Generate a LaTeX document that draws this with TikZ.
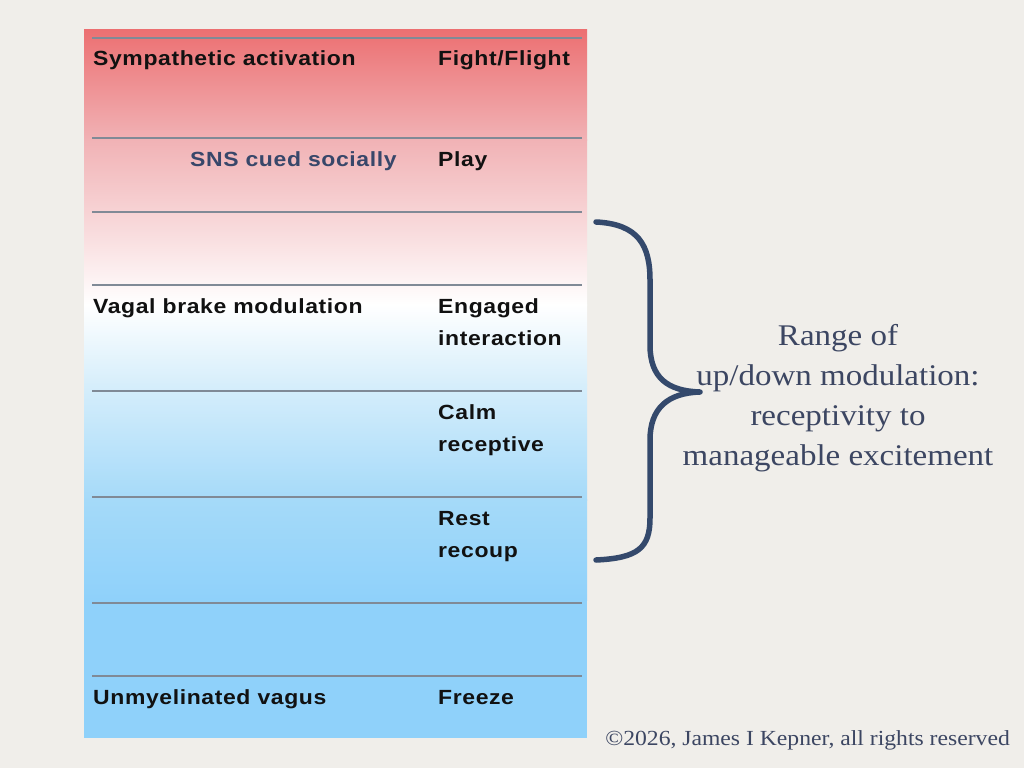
\documentclass[tikz,border=0pt]{standalone}
\usepackage{fontspec}
\setmainfont{Liberation Serif}
\newfontfamily\tabfont[FakeStretch=1.12,LetterSpace=3]{Liberation Sans}
\newfontfamily\palfont[FakeStretch=1.1]{Liberation Serif}
\definecolor{paper}{RGB}{240,238,234}
\definecolor{redtop}{RGB}{236,112,114}
\definecolor{redmid}{RGB}{241,178,181}
\definecolor{pinklo}{RGB}{250,228,229}
\definecolor{bluehi}{RGB}{214,238,251}
\definecolor{bluemid}{RGB}{165,218,249}
\definecolor{bluelo}{RGB}{143,209,250}
\definecolor{rule}{RGB}{128,138,150}
\definecolor{slate}{RGB}{56,71,106}
\definecolor{bracecol}{RGB}{52,73,108}
\definecolor{serifcol}{RGB}{60,70,98}
\definecolor{ink}{RGB}{17,17,17}
\tikzset{
  rowline/.style={draw=rule, line width=1.4pt},
  lab/.style={anchor=base west, inner sep=0pt, text=ink, font=\tabfont\bfseries\fontsize{20.5}{24}\selectfont},
  sns/.style={lab, text=slate},
  rng/.style={anchor=base, inner sep=0pt, text=serifcol, font=\palfont\fontsize{30}{36}\selectfont},
  copy/.style={anchor=base east, inner sep=0pt, text=serifcol, font=\palfont\fontsize{21.5}{26}\selectfont},
  bracestyle/.style={draw=bracecol, line width=5.5pt, line cap=round, line join=round}
}
\begin{document}
\begin{tikzpicture}[x=1pt,y=-1pt]
\useasboundingbox (0,0) rectangle (1024,768);
\fill[paper] (0,0) rectangle (1024,768);
% table background gradient
\shade[top color=redtop, bottom color=redmid] (84,30) rectangle (587,140);
\shade[top color=redmid, bottom color=pinklo] (84,139.5) rectangle (587,250);
\shade[top color=pinklo, bottom color=white] (84,249.5) rectangle (587,305);
\shade[top color=white, bottom color=bluehi] (84,304.5) rectangle (587,385);
\shade[top color=bluehi, bottom color=bluemid] (84,384.5) rectangle (587,500);
\shade[top color=bluemid, bottom color=bluelo] (84,499.5) rectangle (587,600);
\fill[bluelo] (84,599.5) rectangle (587,738);
% row lines
\foreach \yy/\nm in {38/l1,138/l2,212/l3,285/l4,391/l5,497/l6,603/l7,676/l8}{
  \coordinate (\nm a) at (92,\yy);
  \coordinate (\nm b) at (582,\yy);
  \draw[rowline] (\nm a) -- (\nm b);
}
% texts
\node[lab] (sa) at (93,66) {Sympathetic activation};
\node[lab] (ff) at (438,66) {Fight/Flight};
\node[sns] (sns) at (190,166) {SNS cued socially};
\node[lab] (play) at (438,166) {Play};
\node[lab] (vb) at (93,313) {Vagal brake modulation};
\node[lab] (eng1) at (438,313) {Engaged};
\node[lab] (eng2) at (438,345) {interaction};
\node[lab] (calm1) at (438,419) {Calm};
\node[lab] (calm2) at (438,451) {receptive};
\node[lab] (rest1) at (438,525) {Rest};
\node[lab] (rest2) at (438,557) {recoup};
\node[lab] (uv) at (93,704) {Unmyelinated vagus};
\node[lab] (frz) at (438,704) {Freeze};
% brace
\coordinate (bt) at (596,222);
\coordinate (bm) at (700,392);
\coordinate (bb) at (596,560);
\draw[bracestyle] (bt) .. controls (638,224) and (650,245) .. (650,280)
  -- (650,345) .. controls (650,378) and (668,391) .. (bm)
  .. controls (668,393) and (650,408) .. (650,440)
  -- (650,518) .. controls (650,548) and (638,558) .. (bb);
% range text
\node[rng] (r1) at (838,345) {Range of};
\node[rng] (r2) at (838,385) {up/down modulation:};
\node[rng] (r3) at (838,425) {receptivity to};
\node[rng] (r4) at (838,465) {manageable excitement};
% copyright
\node[copy] (cp) at (1010,745) {©2026, James I Kepner, all rights reserved};
\end{tikzpicture}
\end{document}
